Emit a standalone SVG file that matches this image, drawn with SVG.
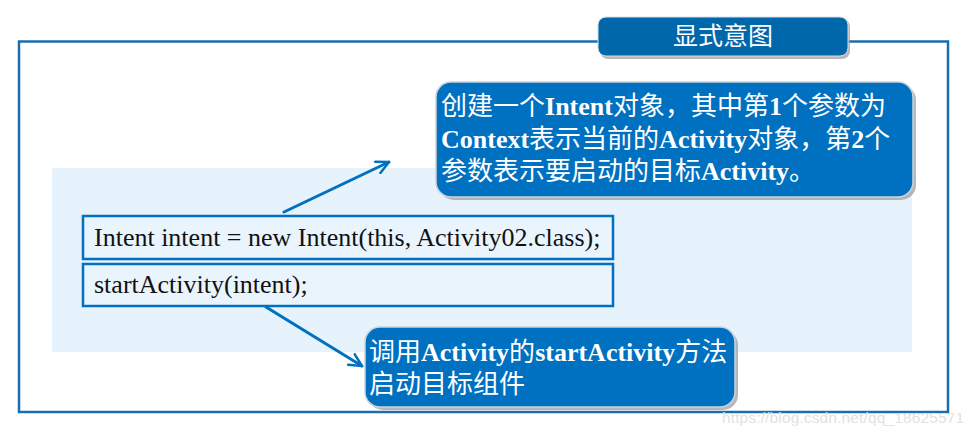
<svg xmlns="http://www.w3.org/2000/svg" width="974" height="437" viewBox="0 0 974 437">
<defs>
<style>
.cjk{font-family:"Liberation Serif","Noto Sans CJK SC",sans-serif;}
.tcjk{font-family:"Noto Sans CJK SC","Noto Sans",sans-serif;}
.lat{font-weight:bold;}
.code{font-family:"Liberation Serif",serif;font-size:26px;fill:#111;}
.callout{fill:#0070c0;stroke:#c9d3dc;stroke-width:1.5;}
.shadow{fill:#9a9a9a;opacity:0.7;}
.codebox{fill:#eaf4fd;stroke:#0070c0;stroke-width:2.5;}
.conn{stroke:#0070c0;stroke-width:3;fill:none;stroke-linecap:round;}
.ctext{font-size:26px;fill:#ffffff;}
</style>
<marker id="arr" viewBox="0 0 12 12" refX="11" refY="6" markerWidth="5" markerHeight="5" orient="auto" markerUnits="strokeWidth">
<path d="M1,1 L11,6 L1,11" fill="none" stroke="#0070c0" stroke-width="2" stroke-linecap="round" stroke-linejoin="round"/>
</marker>
</defs>
<rect width="974" height="437" fill="#ffffff"/>
<g id="frame">
<rect x="19" y="41.5" width="929" height="370.5" fill="none" stroke="#1a6eae" stroke-width="2.5"/>
</g>
<g id="panel">
<rect x="52" y="168" width="860" height="184" fill="#e6f2fc"/>
</g>
<g id="title">
<rect x="600" y="19" width="250" height="40" rx="8" class="shadow"/>
<rect x="598" y="17" width="250" height="39" rx="8" fill="#0067aa" stroke="#d5dde5" stroke-width="1"/>
<text x="723" y="45" text-anchor="middle" class="tcjk" font-size="25" fill="#ffffff">显式意图</text>
</g>
<g id="callout1">
<rect x="439" y="85" width="477" height="115" rx="15" class="shadow"/>
<rect x="436" y="82" width="477" height="115" rx="15" class="callout"/>
<text class="ctext cjk" x="441" y="115">创建一个<tspan class="lat">Intent</tspan>对象，其中第<tspan class="lat">1</tspan>个参数为</text>
<text class="ctext cjk" x="441" y="148"><tspan class="lat">Context</tspan>表示当前的<tspan class="lat">Activity</tspan>对象，第<tspan class="lat">2</tspan>个</text>
<text class="ctext cjk" x="441" y="180">参数表示要启动的目标<tspan class="lat">Activity</tspan>。</text>
</g>
<g id="code1">
<rect x="83" y="216" width="530" height="43" class="codebox"/>
<text class="code" x="94" y="246">Intent intent = new Intent(this, Activity02.class);</text>
</g>
<g id="code2">
<rect x="83" y="264" width="530" height="42" class="codebox"/>
<text class="code" x="94" y="293">startActivity(intent);</text>
</g>
<g id="callout2">
<rect x="368" y="330" width="370" height="80" rx="15" class="shadow"/>
<rect x="365" y="327" width="370" height="80" rx="15" class="callout"/>
<text class="ctext cjk" x="369" y="361">调用<tspan class="lat">Activity</tspan>的<tspan class="lat">startActivity</tspan>方法</text>
<text class="ctext cjk" x="369" y="393">启动目标组件</text>
</g>
<g id="connectors">
<line x1="284" y1="212" x2="389" y2="162" class="conn" marker-end="url(#arr)"/>
<line x1="266" y1="307" x2="362" y2="366" class="conn" marker-end="url(#arr)"/>
</g>
<text x="722" y="423" font-family="Liberation Sans, Arial, sans-serif" font-size="15.5" fill="#e2e2e2" textLength="242">https://blog.csdn.net/qq_18625571</text>
</svg>
